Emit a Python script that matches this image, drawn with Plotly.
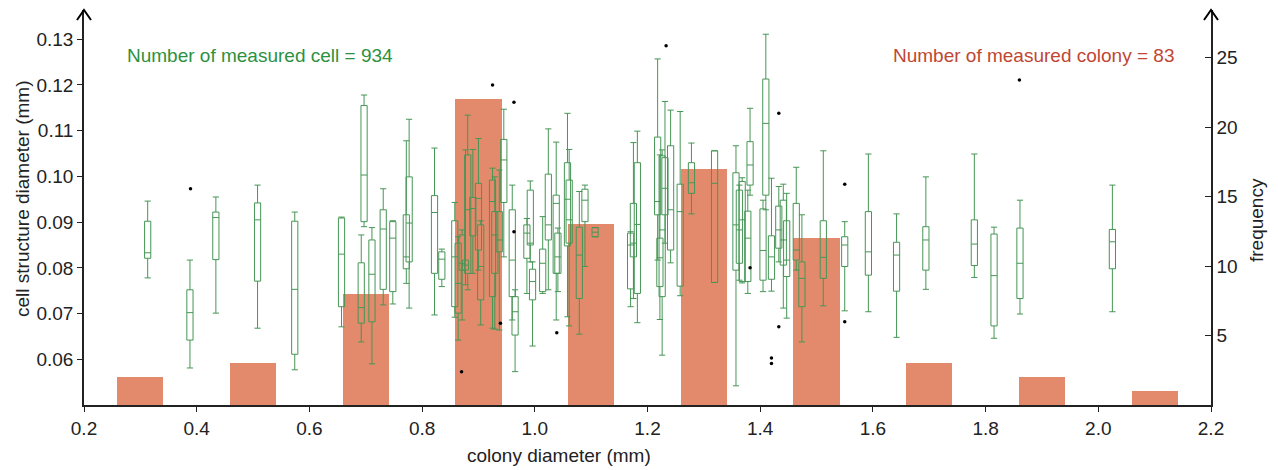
import plotly.graph_objects as go

# ---- histogram (colony counts) ----
bar_x = [0.3, 0.5, 0.7, 0.9, 1.1, 1.3, 1.5, 1.7, 1.9, 2.1]
bar_freq = [2, 3, 8, 22, 13, 17, 12, 3, 2, 1]

# ---- box plots per colony (cell structure diameter, mm) ----
box_x = [0.313, 0.388, 0.434, 0.508, 0.574, 0.657, 0.697, 0.692, 0.711, 0.731,
         0.748, 0.777, 0.772, 0.822, 0.835, 0.858, 0.864, 0.871, 0.881, 0.877,
         0.890, 0.900, 0.904, 0.925, 0.929, 0.937, 0.945, 0.960, 0.965, 0.986,
         0.992, 0.996, 1.014, 1.024, 1.038, 1.041, 1.058, 1.061, 1.079, 1.089,
         1.107, 1.170, 1.175, 1.182, 1.218, 1.222, 1.226, 1.231, 1.241, 1.258,
         1.278, 1.319, 1.357, 1.363, 1.368, 1.382, 1.378, 1.410, 1.405, 1.420,
         1.433, 1.441, 1.447, 1.464, 1.474, 1.512, 1.550, 1.592, 1.642, 1.694,
         1.780, 1.815, 1.861, 2.025]
box_low = [0.0778, 0.0581, 0.0701, 0.0668, 0.0577, 0.0671, 0.0890, 0.0638, 0.0590, 0.0719,
           0.0721, 0.0712, 0.0766, 0.0697, 0.0759, 0.0692, 0.0642, 0.0686, 0.0752, 0.0763,
           0.0788, 0.0795, 0.0675, 0.0668, 0.0666, 0.0664, 0.0824, 0.0686, 0.0573, 0.0744,
           0.0813, 0.0629, 0.0744, 0.0752, 0.0686, 0.0748, 0.0693, 0.0673, 0.0655, 0.0803,
           0.0868, 0.0715, 0.0733, 0.0680, 0.0817, 0.0687, 0.0609, 0.0854, 0.0811, 0.0739,
           0.0918, 0.0768, 0.0542, 0.0773, 0.0767, 0.0959, 0.0744, 0.0927, 0.0748, 0.0749,
           0.0813, 0.0712, 0.0690, 0.0795, 0.0638, 0.0717, 0.0706, 0.0704, 0.0648, 0.0753,
           0.0779, 0.0646, 0.0699, 0.0704]
box_q1 = [0.0821, 0.0642, 0.0818, 0.0771, 0.0611, 0.0715, 0.0901, 0.0679, 0.0682, 0.0753,
          0.0748, 0.0813, 0.0798, 0.0788, 0.0775, 0.0715, 0.0701, 0.0795, 0.0788, 0.0795,
          0.0870, 0.0839, 0.0730, 0.0737, 0.0788, 0.0835, 0.0943, 0.0737, 0.0653, 0.0821,
          0.0850, 0.0730, 0.0748, 0.0861, 0.0788, 0.0788, 0.0848, 0.0854, 0.0733, 0.0901,
          0.0868, 0.0754, 0.0824, 0.0744, 0.0916, 0.0759, 0.0737, 0.0916, 0.0839, 0.0760,
          0.0963, 0.0768, 0.0795, 0.0810, 0.0770, 0.0981, 0.0770, 0.0959, 0.0773, 0.0775,
          0.0843, 0.0806, 0.0781, 0.0817, 0.0715, 0.0777, 0.0803, 0.0784, 0.0749, 0.0795,
          0.0805, 0.0673, 0.0733, 0.0798]
box_med = [0.0833, 0.0702, 0.0910, 0.0905, 0.0753, 0.0830, 0.1003, 0.0713, 0.0786, 0.0885,
           0.0865, 0.0898, 0.0824, 0.0921, 0.0819, 0.0824, 0.0766, 0.0810, 0.0927, 0.0806,
           0.0930, 0.0952, 0.0803, 0.0945, 0.0872, 0.0861, 0.1036, 0.0817, 0.0704, 0.0876,
           0.0854, 0.0770, 0.0810, 0.0894, 0.0941, 0.0824, 0.0950, 0.0905, 0.0828, 0.0948,
           0.0878, 0.0850, 0.0854, 0.0895, 0.0945, 0.0822, 0.0883, 0.0974, 0.0927, 0.0923,
           0.0986, 0.0985, 0.0894, 0.0883, 0.0905, 0.1025, 0.0865, 0.1116, 0.0838, 0.0824,
           0.0883, 0.0861, 0.0817, 0.0839, 0.0777, 0.0823, 0.0850, 0.0835, 0.0828, 0.0861,
           0.0852, 0.0783, 0.0810, 0.0857]
box_q3 = [0.0902, 0.0752, 0.0922, 0.0942, 0.0902, 0.0909, 0.1155, 0.0811, 0.0861, 0.0927,
          0.0901, 0.0999, 0.0916, 0.0958, 0.0835, 0.0903, 0.0854, 0.0872, 0.1047, 0.0817,
          0.0954, 0.0985, 0.0894, 0.0992, 0.0923, 0.0923, 0.1081, 0.0927, 0.0737, 0.0894,
          0.0970, 0.0797, 0.0841, 0.1005, 0.0959, 0.0876, 0.1030, 0.0992, 0.0889, 0.0972,
          0.0888, 0.0876, 0.0941, 0.1030, 0.1086, 0.0865, 0.1045, 0.1041, 0.1067, 0.0983,
          0.1030, 0.1056, 0.1008, 0.0970, 0.0989, 0.1076, 0.0924, 0.1213, 0.0929, 0.0870,
          0.0935, 0.0948, 0.0903, 0.0941, 0.0813, 0.0903, 0.0868, 0.0923, 0.0856, 0.0890,
          0.0905, 0.0874, 0.0887, 0.0884]
box_high = [0.0946, 0.0817, 0.0955, 0.0981, 0.0922, 0.0911, 0.1178, 0.0872, 0.0888, 0.0973,
            0.0903, 0.1125, 0.1078, 0.1062, 0.0841, 0.0943, 0.0868, 0.0883, 0.1134, 0.1058,
            0.1059, 0.1083, 0.0903, 0.1018, 0.0999, 0.1014, 0.1147, 0.0981, 0.0752, 0.0908,
            0.0990, 0.0813, 0.0912, 0.1104, 0.1075, 0.0887, 0.1138, 0.1059, 0.0967, 0.0981,
            0.0888, 0.0879, 0.1074, 0.1099, 0.1257, 0.1047, 0.1058, 0.1164, 0.1145, 0.1142,
            0.1073, 0.1056, 0.1067, 0.0981, 0.0997, 0.1149, 0.0970, 0.1311, 0.0948, 0.0996,
            0.0978, 0.0983, 0.0963, 0.1020, 0.0916, 0.1056, 0.0901, 0.1049, 0.0918, 0.0999,
            0.1049, 0.0889, 0.0948, 0.0981]

# ---- outliers ----
out_x = [0.389, 0.870, 0.925, 0.963, 0.963, 0.939, 1.039, 1.233, 1.382, 1.433,
         1.433, 1.420, 1.420, 1.550, 1.550, 1.860]
out_y = [0.0973, 0.0573, 0.1200, 0.1162, 0.0879, 0.0679, 0.0658, 0.1286, 0.0800, 0.1138,
         0.0671, 0.0603, 0.0591, 0.0983, 0.0682, 0.1211]

x_ticks = [0.2, 0.4, 0.6, 0.8, 1.0, 1.2, 1.4, 1.6, 1.8, 2.0, 2.2]
y_ticks = [0.06, 0.07, 0.08, 0.09, 0.10, 0.11, 0.12, 0.13]
freq_ticks = [5, 10, 15, 20, 25]

GREEN = "rgb(70,150,85)"
BAR = "#E48A6C"
AX = "#222222"
FONT = "Liberation Sans, Arial, sans-serif"
FS = 19

fig = go.Figure()

fig.add_trace(go.Bar(
    x=bar_x, y=bar_freq, width=0.082, marker=dict(color=BAR, line=dict(width=0)),
    yaxis="y", showlegend=False, hoverinfo="x+y"))

fig.add_trace(go.Box(
    x=box_x, q1=box_q1, median=box_med, q3=box_q3,
    lowerfence=box_low, upperfence=box_high,
    width=0.011, whiskerwidth=1, boxpoints=False,
    fillcolor="rgba(0,0,0,0)", line=dict(color=GREEN, width=1),
    yaxis="y2", showlegend=False))

fig.add_trace(go.Scatter(
    x=out_x, y=out_y, mode="markers", yaxis="y2",
    marker=dict(color="black", size=3.5), showlegend=False))

# the page body adds an 8px offset; size/margins compensate for it
fig.update_layout(
    width=1270, height=462,
    margin=dict(l=76, r=67, t=2, b=65, autoexpand=False),
    paper_bgcolor="white", plot_bgcolor="white",
    font=dict(family=FONT, size=FS, color=AX),
    boxmode="overlay", bargap=0,
    xaxis=dict(range=[0.2, 2.2], tickvals=x_ticks, tickformat=".1f",
               showline=True, linecolor=AX, linewidth=1.5, ticks="outside",
               ticklen=5, tickcolor=AX, showgrid=False, zeroline=False,
               automargin=False, tickfont=dict(size=FS, color=AX)),
    yaxis=dict(range=[0, 28.42], side="right", tickvals=freq_ticks,
               showline=True, linecolor=AX, linewidth=1.5, ticks="inside",
               ticklen=6, tickcolor=AX, showgrid=False, zeroline=False,
               automargin=False, tickfont=dict(size=FS, color=AX)),
    yaxis2=dict(range=[0.05, 0.1364], side="left", overlaying="y",
                tickvals=y_ticks, tickformat=".2f",
                showline=True, linecolor=AX, linewidth=1.5, ticks="outside",
                ticklen=5, tickcolor=AX, showgrid=False, zeroline=False,
                automargin=False, tickfont=dict(size=FS, color=AX)),
)

# arrowheads at the top of both vertical axes
for xp in (0.0, 1.0):
    dx = 7 / 1127
    dy = 10 / 395
    fig.add_shape(type="path", xref="paper", yref="paper",
                  path=f"M {xp-dx},{1-dy} L {xp},{1.0} L {xp+dx},{1-dy}",
                  line=dict(color="black", width=2))

annots = [
    dict(text="Number of measured cell = 934", x=(125 - 84) / 1127, y=(405 - 55) / 395,
         xanchor="left", yanchor="middle", font=dict(color="rgb(45,145,65)", size=FS)),
    dict(text="Number of measured colony = 83", x=(1176 - 84) / 1127, y=(405 - 55) / 395,
         xanchor="right", yanchor="middle", font=dict(color="rgb(192,70,50)", size=FS)),
    dict(text="colony diameter (mm)", x=(559 - 84) / 1127, y=(405 - 455) / 395,
         xanchor="center", yanchor="middle", font=dict(size=FS, color=AX)),
    dict(text="cell structure diameter (mm)", x=(22 - 84) / 1127, y=(405 - 199) / 395,
         xanchor="center", yanchor="middle", textangle=-90, font=dict(size=FS, color=AX)),
    dict(text="frequency", x=(1257 - 84) / 1127, y=(405 - 220) / 395,
         xanchor="center", yanchor="middle", textangle=-90, font=dict(size=FS, color=AX)),
]
for a in annots:
    fig.add_annotation(xref="paper", yref="paper", showarrow=False, **a)

fig.write_html("out.html")
